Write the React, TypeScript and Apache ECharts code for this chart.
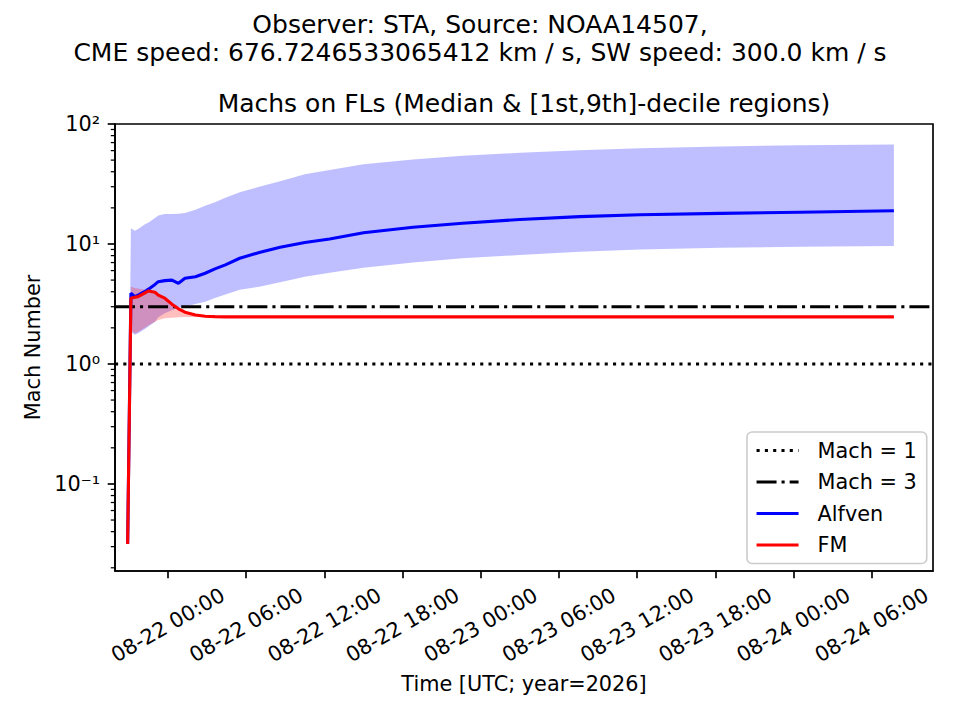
import { useEffect, useRef } from 'react';
import * as echarts from 'echarts';

// time axis: hours since 2026-08-22 00:00 UTC
const TIME_H = [
  -3.1, -2.85, -2.55, -2.3, -1.8, -1.5, -1.0, -0.75, -0.25, 0.3,
  0.8, 1.3, 2.1, 2.85, 3.6, 4.4, 5.5, 7.0, 8.6, 10.5,
  12.4, 15.0, 18.8, 22.6, 27.0, 31.6, 36.2, 42.4, 48.5, 55.7,
];

// Alfven Mach number: median and 1st / 9th decile
const ALFVEN_MED = [
  0.0316, 3.88, 3.64, 3.75, 4.0, 4.2, 4.6, 4.85, 4.95, 5.0,
  4.7, 5.18, 5.33, 5.7, 6.2, 6.7, 7.6, 8.5, 9.4, 10.3,
  11.0, 12.4, 13.8, 14.9, 16.0, 16.9, 17.5, 18.0, 18.4, 18.9,
];
const ALFVEN_LO = [
  0.028, 1.85, 1.75, 1.8, 1.95, 2.05, 2.25, 2.45, 2.65, 2.8,
  2.95, 3.0, 3.16, 3.3, 3.55, 3.8, 4.15, 4.4, 4.8, 5.33,
  5.75, 6.35, 7.0, 7.6, 8.1, 8.6, 9.0, 9.3, 9.5, 9.6,
];
const ALFVEN_HI = [
  0.028, 13.5, 12.9, 13.3, 14.5, 15.1, 16.5, 17.3, 17.8, 17.8,
  17.9, 18.1, 19.3, 20.8, 22.3, 24.3, 27.0, 30.0, 33.3, 38.1,
  41.4, 46.1, 50.6, 54.3, 57.5, 60.5, 62.8, 65.0, 66.5, 67.6,
];

// fast-magnetosonic Mach number: median and 1st / 9th decile
const FM_MED = [
  0.0316, 3.53, 3.6, 3.64, 3.9, 4.06, 3.96, 3.75, 3.53, 3.15,
  2.88, 2.7, 2.56, 2.5, 2.48, 2.47, 2.47, 2.47, 2.47, 2.47,
  2.47, 2.47, 2.47, 2.47, 2.47, 2.47, 2.47, 2.47, 2.47, 2.47,
];
const FM_LO = [
  0.028, 1.9, 1.8, 1.85, 2.0, 2.1, 2.25, 2.32, 2.4, 2.43,
  2.45, 2.46, 2.46, 2.46, 2.46, 2.46, 2.46, 2.46, 2.46, 2.46,
  2.46, 2.46, 2.46, 2.46, 2.46, 2.46, 2.46, 2.46, 2.46, 2.46,
];
const FM_HI = [
  0.028, 4.4, 4.3, 4.25, 4.15, 4.1, 4.0, 3.88, 3.56, 3.18,
  2.9, 2.72, 2.58, 2.52, 2.49, 2.48, 2.48, 2.48, 2.48, 2.48,
  2.48, 2.48, 2.48, 2.48, 2.48, 2.48, 2.48, 2.48, 2.48, 2.48,
];

const MACH_LEVELS = [1, 3];
const LEGEND_NAMES = ['Mach = 1', 'Mach = 3', 'Alfven', 'FM'];

const X_MIN = -4.07;
const X_MAX = 58.7;
const X_TICKS = [0, 6, 12, 18, 24, 30, 36, 42, 48, 54];
const X_TICK_LABELS = [
  '08-22 00:00', '08-22 06:00', '08-22 12:00', '08-22 18:00', '08-23 00:00',
  '08-23 06:00', '08-23 12:00', '08-23 18:00', '08-24 00:00', '08-24 06:00',
];

const Y_MIN = 0.0188;
const Y_MAX = 100;
const Y_TICKS = [0.1, 1, 10, 100];
const Y_TICK_LABELS = ['10⁻¹', '10⁰', '10¹', '10²'];
const Y_MINOR = [
  0.02, 0.03, 0.04, 0.05, 0.06, 0.07, 0.08, 0.09,
  0.2, 0.3, 0.4, 0.5, 0.6, 0.7, 0.8, 0.9,
  2, 3, 4, 5, 6, 7, 8, 9,
  20, 30, 40, 50, 60, 70, 80, 90,
];

const SUPTITLE = 'Observer: STA, Source: NOAA14507,\nCME speed: 676.7246533065412 km / s, SW speed: 300.0 km / s';
const TITLE = 'Machs on FLs (Median & [1st,9th]-decile regions)';

const FONT = 'DejaVu Sans';
const FS = 20.8;
const LW = 3.1;

function bandSeries(name: string, lo: number[], hi: number[], color: string) {
  return {
    type: 'custom',
    name,
    z: 1,
    silent: true,
    data: TIME_H.map((t, i) => [t, lo[i], hi[i]]),
    encode: { x: 0, y: [1, 2] },
    renderItem: (params: any, api: any) => {
      if (params.dataIndex !== 0) return null;
      const upper = TIME_H.map((t, i) => api.coord([t, hi[i]]));
      const lower = TIME_H.map((t, i) => api.coord([t, lo[i]])).reverse();
      return {
        type: 'polygon',
        shape: { points: upper.concat(lower) },
        style: { fill: color, stroke: 'none' },
      };
    },
  };
}

// minor log ticks on the left spine, placed through the y scale
const minorTickSeries = {
  type: 'custom',
  name: 'minor ticks',
  z: 5,
  silent: true,
  clip: false,
  data: Y_MINOR.map((v) => [X_MIN, v]),
  encode: { x: 0, y: 1 },
  renderItem: (_params: any, api: any) => {
    const p = api.coord([api.value(0), api.value(1)]);
    return {
      type: 'line',
      shape: { x1: p[0] - 4.2, y1: p[1], x2: p[0], y2: p[1] },
      style: { stroke: '#000', lineWidth: 1.25 },
    };
  },
};

export default function App() {
  const chartRef = useRef<HTMLDivElement>(null);

  useEffect(() => {
    if (!chartRef.current) return;
    const chart = echarts.init(chartRef.current, null, { renderer: 'svg' });

    const option: any = {
      animation: false,
      backgroundColor: '#ffffff',
      textStyle: { fontFamily: FONT, color: '#000' },
      title: [
        {
          text: SUPTITLE,
          left: 'center',
          top: 10.9,
          padding: 0,
          textStyle: { fontFamily: FONT, fontSize: 25, fontWeight: 'normal', lineHeight: 27.6, color: '#000' },
        },
        {
          text: TITLE,
          left: 524,
          textAlign: 'center',
          top: 90.5,
          padding: 0,
          textStyle: { fontFamily: FONT, fontSize: 25, fontWeight: 'normal', lineHeight: 25, color: '#000' },
        },
      ],
      grid: {
        left: 115,
        top: 124,
        width: 818,
        height: 447,
        show: true,
        borderColor: '#000',
        borderWidth: 1.67,
        backgroundColor: 'transparent',
      },
      legend: {
        data: LEGEND_NAMES,
        orient: 'vertical',
        left: 747,
        top: 432,
        padding: [8, 10, 8, 8],
        itemWidth: 42,
        itemHeight: 14,
        itemGap: 10.5,
        selectedMode: false,
        itemStyle: { opacity: 0 },
        lineStyle: { width: LW },
        backgroundColor: 'rgba(255,255,255,0.8)',
        borderColor: '#cccccc',
        borderWidth: 1.6,
        borderRadius: 5,
        textStyle: { fontFamily: FONT, fontSize: FS, lineHeight: 20, color: '#000', padding: [0, 0, 0, 14] },
      },
      xAxis: {
        type: 'value',
        min: X_MIN,
        max: X_MAX,
        name: 'Time [UTC; year=2026]',
        nameLocation: 'middle',
        nameGap: 102,
        nameTextStyle: { fontFamily: FONT, fontSize: FS, color: '#000' },
        splitLine: { show: false },
        axisLine: { onZero: false, lineStyle: { color: '#000', width: 1.67 } },
        axisTick: { customValues: X_TICKS, length: 7.3, lineStyle: { color: '#000', width: 1.67 } },
        axisLabel: {
          customValues: X_TICKS,
          rotate: 30,
          align: 'center',
          verticalAlign: 'middle',
          margin: 54,
          fontFamily: FONT,
          fontSize: FS,
          color: '#000',
          formatter: (v: number) => X_TICK_LABELS[X_TICKS.indexOf(v)] ?? '',
        },
      },
      yAxis: {
        type: 'log',
        logBase: 10,
        min: Y_MIN,
        max: Y_MAX,
        name: 'Mach Number',
        nameLocation: 'middle',
        nameGap: 68,
        nameTextStyle: { fontFamily: FONT, fontSize: FS, color: '#000' },
        splitLine: { show: false },
        axisLine: { show: true, onZero: false, lineStyle: { color: '#000', width: 1.67 } },
        axisTick: { customValues: Y_TICKS, length: 7.3, lineStyle: { color: '#000', width: 1.67 } },
        axisLabel: {
          customValues: Y_TICKS,
          margin: 15,
          fontFamily: FONT,
          fontSize: FS,
          color: '#000',
          formatter: (v: number) => {
            const i = Y_TICKS.findIndex((t) => Math.abs(t - v) / t < 1e-6);
            return i >= 0 ? Y_TICK_LABELS[i] : '';
          },
        },
      },
      series: [
        bandSeries('Alfven band', ALFVEN_LO, ALFVEN_HI, 'rgba(0,0,255,0.25)'),
        bandSeries('FM band', FM_LO, FM_HI, 'rgba(255,0,0,0.25)'),
        minorTickSeries,
        {
          type: 'line',
          name: LEGEND_NAMES[0],
          z: 2,
          symbol: 'none',
          data: [[X_MIN, MACH_LEVELS[0]], [X_MAX, MACH_LEVELS[0]]],
          lineStyle: { color: '#000', width: LW, type: [3.1, 5.2] },
          itemStyle: { color: '#000' },
        },
        {
          type: 'line',
          name: LEGEND_NAMES[1],
          z: 2,
          symbol: 'none',
          data: [[X_MIN, MACH_LEVELS[1]], [X_MAX, MACH_LEVELS[1]]],
          lineStyle: { color: '#000', width: LW, type: [20, 5, 3.1, 5] },
          itemStyle: { color: '#000' },
        },
        {
          type: 'line',
          name: LEGEND_NAMES[2],
          z: 2,
          symbol: 'none',
          data: TIME_H.map((t, i) => [t, ALFVEN_MED[i]]),
          lineStyle: { color: '#0000ff', width: LW },
          itemStyle: { color: '#0000ff' },
        },
        {
          type: 'line',
          name: LEGEND_NAMES[3],
          z: 2,
          symbol: 'none',
          data: TIME_H.map((t, i) => [t, FM_MED[i]]),
          lineStyle: { color: '#ff0000', width: LW },
          itemStyle: { color: '#ff0000' },
        },
      ],
    };

    chart.setOption(option);

    return () => {
      chart.dispose();
    };
  }, []);

  return (
    <div
      ref={chartRef}
      style={{ position: 'fixed', left: 0, top: 0, width: 960, height: 720 }}
    />
  );
}
